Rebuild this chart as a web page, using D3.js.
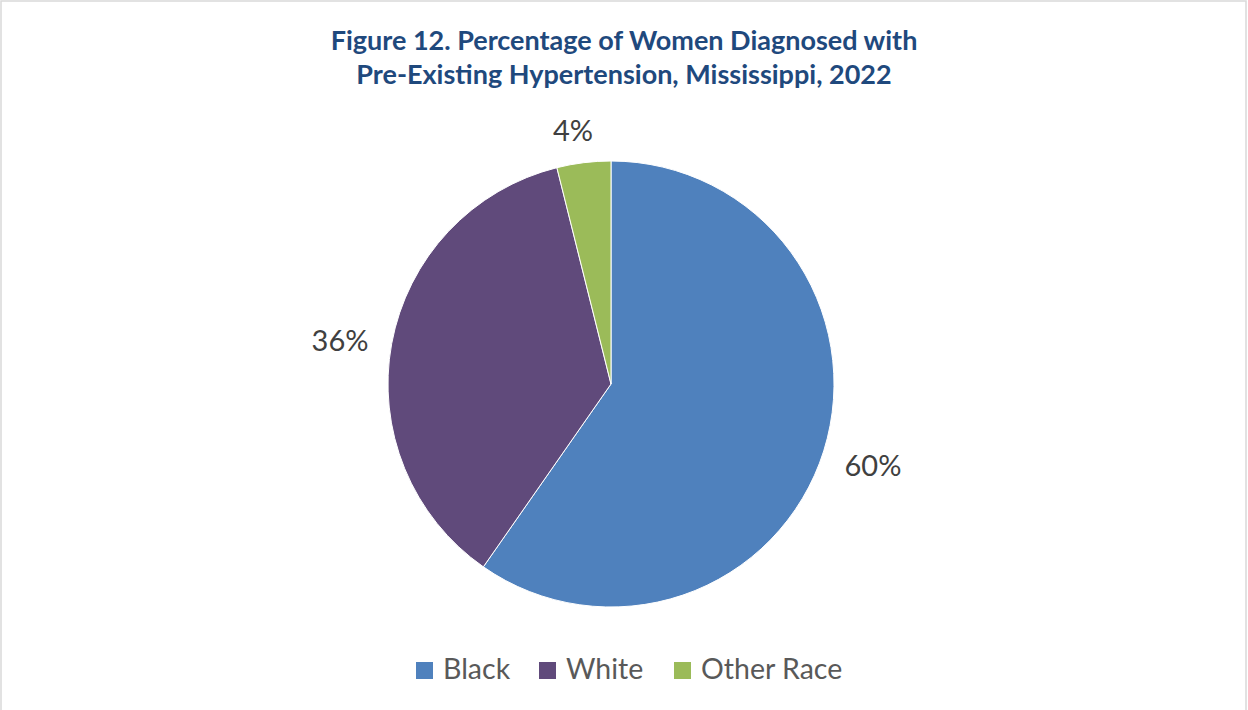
<!DOCTYPE html>
<html><head><meta charset="utf-8">
<script src="https://cdn.jsdelivr.net/npm/d3@7"></script>
<style>body{margin:0;background:#fff;}svg{display:block;}</style>
</head><body>
<svg id="c" width="1248" height="710"></svg>
<script>
const categories = ["Black", "White", "Other Race"];
const values = [59.7, 36.4, 3.9];
const colors = ["#4F81BD", "#604A7B", "#9BBB59"];
const titleLines = ["Figure 12. Percentage of Women Diagnosed with", "Pre-Existing Hypertension, Mississippi, 2022"];

const svg = d3.select("#c");
const font = "Lato, 'Open Sans', sans-serif";
svg.append("rect").attr("x",1).attr("y",1).attr("width",1245).attr("height",712)
  .attr("fill","#fff").attr("stroke","#d9d9d9").attr("stroke-width",1.5);

svg.selectAll("text.title").data(titleLines).join("text").attr("class","title")
  .attr("x",624).attr("y",(d,i)=>50+i*34).attr("text-anchor","middle")
  .attr("font-family",font).attr("font-weight","bold").attr("font-size",27)
  .attr("fill","#1F497D").text(d=>d);

const cx=611, cy=384, r=223;
const data = categories.map((c,i)=>({cat:c,val:values[i],color:colors[i]}));
const pie = d3.pie().value(d=>d.val).sort(null);
const arcs = pie(data);
const arc = d3.arc().innerRadius(0).outerRadius(r);
const g = svg.append("g").attr("transform",`translate(${cx},${cy})`);
g.selectAll("path").data(arcs).join("path").attr("d",arc)
  .attr("fill",d=>d.data.color).attr("stroke","#fff").attr("stroke-width",1);

const labelPos = [[262, 81], [-271, -44], [-38, -254]];
g.selectAll("text.lbl").data(arcs).join("text").attr("class","lbl")
  .attr("x",(d,i)=>labelPos[i][0]).attr("y",(d,i)=>labelPos[i][1]+11)
  .attr("text-anchor","middle").attr("font-family",font).attr("font-size",29)
  .attr("fill","#404040").text(d=>Math.round(d.data.val)+"%");

const legX=[416,539,674];
const lg = svg.selectAll("g.leg").data(data).join("g").attr("class","leg")
  .attr("transform",(d,i)=>`translate(${legX[i]},662)`);
lg.append("rect").attr("width",17).attr("height",17).attr("fill",d=>d.color);
lg.append("text").attr("x",27).attr("y",17).attr("font-family",font).attr("font-size",28.5)
  .attr("fill","#595959").text(d=>d.cat);
</script>
</body></html>
